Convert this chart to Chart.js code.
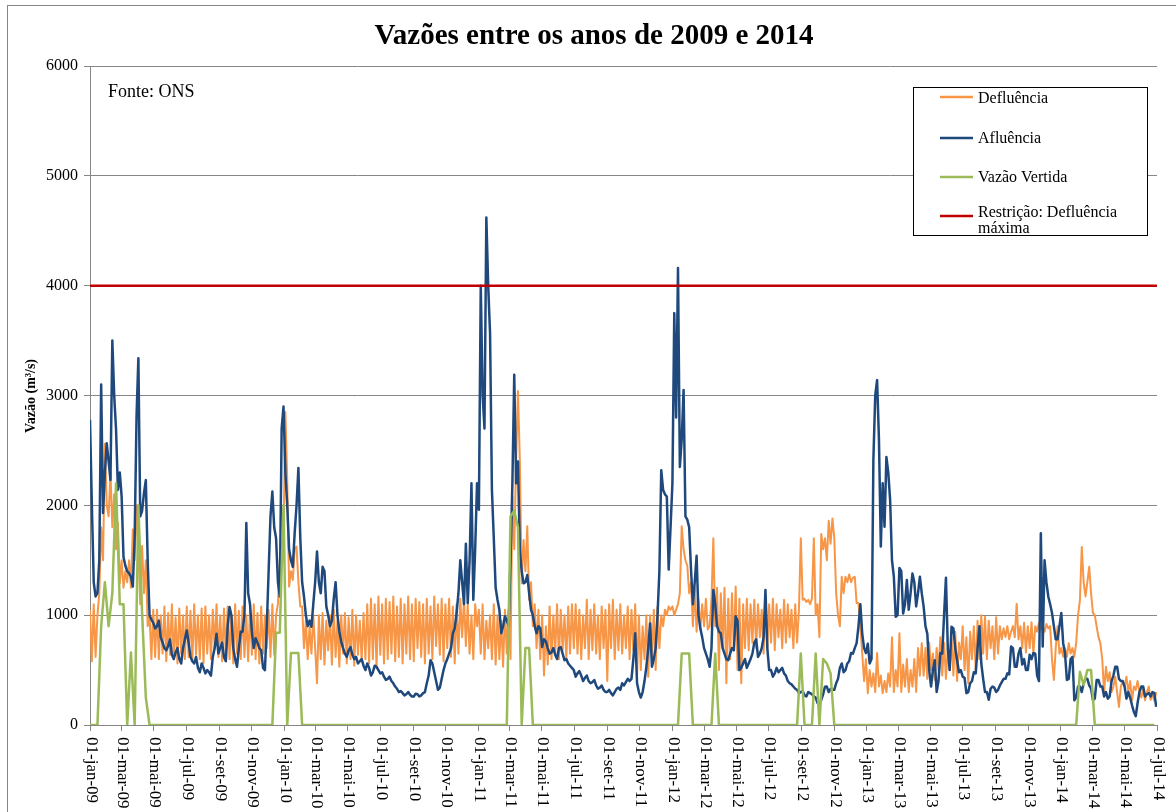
<!DOCTYPE html>
<html>
<head>
<meta charset="utf-8">
<script src="https://cdn.jsdelivr.net/npm/chart.js@4/dist/chart.umd.min.js"></script>
<style>
  html, body { margin: 0; padding: 0; background: #fff; }
  #wrap { width: 1176px; height: 812px; }
</style>
</head>
<body>
<div id="wrap"><canvas id="chart" width="1176" height="812"></canvas></div>
<script>
// Vazões (m³/s) lidas do gráfico a partir de 01-jan-2009
// defluência e afluência amostradas a cada 3,5 dias, vazão vertida a cada 7 dias
const FLOW_STEP_DAYS = 3.5;
const SPILL_STEP_DAYS = 7;

const defluencia = [
  1050, 580, 1100, 620, 1000, 1200, 1800, 1500, 2560, 2000,
  1900, 2300, 1800, 2100, 1600, 1840, 1290, 1500, 1250, 1400,
  1300, 1500, 1250, 1780, 1500, 2000, 1600, 1100, 1630, 1200,
  1500, 900, 1000, 600, 1050,
  620, 1050, 600, 1000, 650, 1080, 580, 1020, 640, 1100,
  600, 980, 560, 1060, 650, 1000, 600, 1080, 620, 1040,
  580, 1100, 640, 1000, 600, 1060, 560, 1080, 650, 1000,
  600, 1050, 700, 1100, 620, 1000, 580, 1060, 640, 1080,
  600, 1000, 560, 1100, 650, 1040, 600, 1080, 620, 1000,
  580, 1050, 640, 1100, 600, 1020, 560, 1080, 650, 1000,
  700, 1050, 620, 1100, 640, 1000, 1100, 1500, 1680,
  1700, 2850, 2230, 1260, 1400, 1320, 1600, 1625, 1300, 1080,
  1080, 700, 950, 600, 900, 650, 1000, 700, 380, 1000,
  600, 1020, 550, 950, 680, 1000, 550, 1050, 620, 950,
  530, 1000, 650, 1020, 560, 980, 600, 1050, 540, 1000,
  640, 950, 580, 1020, 600,
  1100, 560, 1150, 600, 1100, 520, 1170, 640, 1100, 560,
  1150, 600, 1120, 650, 1170, 580, 1080, 620, 1150, 560,
  1100, 650, 1170, 600, 1100, 580, 1150, 700, 1120, 620,
  1100, 560, 1150, 650, 1080, 600, 1170, 720, 1100, 640,
  1150, 580, 1100, 700, 1150, 620, 1080, 560, 1100, 650,
  1150,
  800, 1150, 720, 1100, 650, 1000, 600, 1100, 900, 1050,
  650, 1100, 600, 950, 700, 1000, 600, 1100, 550, 1000,
  600, 950, 530, 1050, 650,
  1050, 600, 2080, 1600, 2400, 3040, 2410, 1290, 1685, 1400,
  1810, 1140, 1300, 900, 1100,
  700, 1050, 600, 1000, 450, 900, 550, 1080, 600, 1000,
  650, 1100, 600, 1050, 680, 1000, 600, 1080, 650, 1100,
  700, 1100, 650, 1050, 600, 1000, 700, 1140, 600, 1050,
  680, 1100, 650, 1000, 600, 1080, 700, 1050, 400, 1100,
  700, 1140, 600, 1050, 680, 1100, 650, 1000, 700, 1080,
  600, 1050, 680, 1100, 450, 1000, 500, 900, 600, 1000,
  440, 1000, 600, 1050, 500, 1080, 700, 1000, 900, 1050,
  1000, 1080, 1050, 1080, 1000, 1050, 1100, 1200, 1810, 1600,
  1500, 1450, 1200, 1300, 900, 1250, 850, 1150, 870, 1100,
  900, 1150, 870, 900, 1150, 1700, 900,
  1250, 500, 1200, 700, 1250, 380, 1150, 600, 1200, 700,
  1260, 500, 1150, 380, 1100, 700, 1150, 680, 1100, 750,
  1140, 700, 1100, 800, 1050, 650, 1140, 700, 1100, 750,
  1150, 680, 1100, 800, 1050, 700, 1140, 750, 1100, 800,
  1050, 700, 1100, 750, 1050,
  1700, 1140, 1150, 1120, 1140, 1100, 1150, 1700, 1000, 1100,
  800, 1740, 1600, 1700, 1500, 1860, 1650, 1880, 1700, 1200,
  1000, 900, 1350, 1200, 1350, 1300, 1370, 1300, 1340, 1350,
  1110, 1110, 900, 655,
  400, 600, 290, 500, 350, 470, 300, 655, 350, 450,
  290, 400, 300, 470, 350, 800, 300, 500, 350, 835,
  300, 550, 350, 600, 300, 500, 350, 600, 300, 700,
  450,
  745, 450, 700, 420, 750, 500, 650, 410, 700, 500,
  800, 450, 750, 420, 700,
  500, 800, 450, 850, 400, 750, 600, 900, 500, 800,
  380, 850, 600, 900, 500, 950, 600,
  1000, 650, 985, 600, 950, 700, 900, 600, 980, 650,
  900, 780, 880, 800, 900, 780, 850, 900, 800, 1105,
  780, 900, 700,
  930, 660, 900, 700, 935, 650, 900, 850, 930, 870,
  900, 850, 920, 880, 900, 600, 410, 700, 900, 650,
  700, 620,
  700, 620, 745, 650, 700, 620, 750, 1000,
  1135, 1620, 1300, 1170, 1300, 1440, 1200, 1020, 1000, 895,
  800, 745, 600, 290,
  530, 400, 480, 300, 350, 440, 300, 165, 350, 400,
  350, 440, 300, 400, 225, 350, 320, 400, 300, 250,
  330, 225, 300, 350, 230, 280, 220, 300
];

const afluencia = [
  2780, 2000, 1300, 1170, 1200, 1500, 3100, 1930, 2300, 2565, 2400, 2230, 3500,
  3000, 2690, 2140, 2300, 2080, 1530, 1450, 1400, 1380, 1350, 1260, 1700, 2800,
  3340, 1900, 1950, 2110, 2230, 1500, 1000, 960, 930, 880, 900, 950, 800,
  750, 700, 680, 720, 780, 640, 600, 660, 700, 600, 560, 700, 780,
  860, 750, 620, 580, 560, 620, 520, 480, 560, 520, 470, 500, 480,
  450, 620, 700, 830, 650, 700, 750, 620, 580, 900, 1075, 1000, 700,
  600, 530, 700, 850, 850, 1000, 1840, 1200, 1100, 850, 700, 790, 750,
  700, 680, 520, 500, 900, 1400, 1900, 2125, 1800, 1700, 1300, 1170, 2700,
  2900, 2300, 2000, 1600, 1500, 1440, 1750, 2000, 2340, 1710, 1300, 1170, 1000,
  900, 950, 895, 1100, 1300, 1580, 1300, 1200, 1440, 1400, 1080, 1000, 900,
  950, 1150, 1300, 1000, 850, 760, 700, 650, 620, 680, 710, 640, 600,
  620, 560, 580, 600, 540, 500, 560, 520, 450, 480, 540, 530, 500,
  470, 480, 440, 410, 420, 440, 400, 380, 350, 330, 300, 310, 290,
  270, 280, 300, 275, 260, 260, 285, 280, 260, 270, 290, 300, 380,
  450, 590, 560, 480, 400, 320, 340, 420, 500, 560, 600, 650, 700,
  835, 880, 1017, 1200, 1500, 1300, 1100, 1650, 1110, 1500, 2200, 1140, 1600,
  2200, 1960, 4000, 3000, 2700, 4620, 4000, 3565, 2140, 1700, 1250, 1140, 1050,
  835, 900, 990, 950, 900, 1500, 2200, 3190, 2200, 2400, 1595, 1400, 1290,
  1300, 1365, 1200, 1050, 1000, 900, 835, 900, 880, 710, 780, 760, 700,
  650, 660, 700, 640, 600, 700, 710, 650, 590, 600, 560, 540, 520,
  500, 440, 470, 490, 450, 400, 430, 450, 400, 380, 390, 410, 360,
  330, 340, 360, 320, 300, 300, 320, 290, 270, 300, 330, 340, 320,
  380, 360, 390, 420, 400, 420, 600, 835, 380, 300, 250, 300, 400,
  530, 700, 925, 530, 600, 700, 1000, 1400, 2320, 2140, 2100, 2080, 1415,
  1800, 2200, 3750, 2800, 4160, 2350, 2600, 3050, 1900, 1870, 1800, 1415, 1100,
  1300, 1540, 1000, 880, 800, 700, 650, 600, 530, 700, 1230, 1100, 900,
  850, 835, 700, 650, 600, 590, 650, 700, 680, 990, 950, 500, 520,
  560, 600, 520, 560, 600, 650, 750, 780, 620, 650, 700, 800, 1230,
  700, 500, 500, 440, 470, 520, 480, 500, 520, 470, 450, 400, 380,
  370, 350, 330, 320, 290, 300, 310, 270, 260, 300, 290, 280, 260,
  250, 200, 180, 230, 280, 349, 350, 300, 330, 320, 320, 380, 420,
  520, 560, 480, 500, 560, 580, 655, 650, 700, 745, 900, 1100, 835,
  700, 655, 740, 560, 600, 2410, 3000, 3140, 2600, 1625, 2200, 1805, 2440,
  2300, 2050, 1500, 1350, 985, 1000, 1430, 1400, 1015, 1100, 1320, 1050, 1200,
  1380, 1300, 1080, 1200, 1350, 1200, 1080, 900, 830, 500, 350, 500, 590,
  300, 400, 655, 650, 1000, 1340, 700, 500, 895, 880, 700, 590, 480,
  500, 440, 430, 290, 300, 380, 400, 480, 470, 700, 900, 560, 420,
  300, 300, 230, 330, 350, 340, 300, 320, 360, 390, 420, 420, 470,
  460, 715, 700, 530, 530, 650, 700, 550, 600, 500, 500, 640, 600,
  655, 650, 450, 400, 1745, 715, 1500, 1300, 1170, 1100, 1020, 900, 780,
  780, 900, 1020, 745, 650, 410, 420, 600, 620, 225, 250, 350, 350,
  300, 380, 420, 420, 360, 330, 225, 240, 410, 410, 350, 350, 260,
  300, 240, 260, 400, 450, 530, 530, 420, 400, 400, 350, 240, 300, 250,
  180, 120, 80, 200, 300, 350, 350, 260, 280, 290, 260, 300, 290, 165
];

const vazaoVertida = [
  0, 0, 0, 900, 1300, 900, 1200, 2200, 1100, 1100, 0, 660, 0,
  2000, 1020, 250, 0, 0, 0, 0, 0, 0, 0, 0, 0, 0,
  0, 0, 0, 0, 0, 0, 0, 0, 0, 0, 0, 0, 0,
  0, 0, 0, 0, 0, 0, 0, 0, 0, 0, 0, 840, 840,
  2000, 0, 655, 655, 655, 0, 0, 0, 0, 0, 0, 0, 0,
  0, 0, 0, 0, 0, 0, 0, 0, 0, 0, 0, 0, 0,
  0, 0, 0, 0, 0, 0, 0, 0, 0, 0, 0, 0, 0,
  0, 0, 0, 0, 0, 0, 0, 0, 0, 0, 0, 0, 0,
  0, 0, 0, 0, 0, 0, 0, 0, 0, 1900, 1950, 1800, 0,
  700, 700, 0, 0, 0, 0, 0, 0, 0, 0, 0, 0, 0,
  0, 0, 0, 0, 0, 0, 0, 0, 0, 0, 0, 0, 0,
  0, 0, 0, 0, 0, 0, 0, 0, 0, 0, 0, 0, 0,
  0, 0, 0, 650, 650, 650, 0, 0, 0, 0, 0, 0, 650,
  0, 0, 0, 0, 0, 0, 0, 0, 0, 0, 0, 0, 0,
  0, 0, 0, 0, 0, 0, 0, 0, 0, 650, 0, 0, 0,
  650, 0, 600, 560, 470, 0, 0, 0, 0, 0, 0, 0, 0,
  0, 0, 0, 0, 0, 0, 0, 0, 0, 0, 0, 0, 0,
  0, 0, 0, 0, 0, 0, 0, 0, 0, 0, 0, 0, 0,
  0, 0, 0, 0, 0, 0, 0, 0, 0, 0, 0, 0, 0,
  0, 0, 0, 0, 0, 0, 0, 0, 0, 0, 0, 0, 0,
  0, 0, 0, 0, 0, 0, 485, 365, 500, 500, 0, 0, 0,
  0, 0, 0, 0, 0, 0, 0, 0, 0, 0, 0, 0, 0, 0
];

const restricaoDays = [0, 2007];
const restricaoMax = [4000, 4000];

// eixo x: dias desde 01-jan-09, marcas a cada 2 meses
const tickDays = [
  0, 59, 120, 181, 243, 304,
  365, 424, 485, 546, 608, 669,
  730, 789, 850, 911, 973, 1034,
  1095, 1155, 1216, 1277, 1339, 1400,
  1461, 1520, 1581, 1642, 1704, 1765,
  1826, 1885, 1946, 2007
];
const tickLabels = [
  '01-jan-09', '01-mar-09', '01-mai-09', '01-jul-09', '01-set-09', '01-nov-09',
  '01-jan-10', '01-mar-10', '01-mai-10', '01-jul-10', '01-set-10', '01-nov-10',
  '01-jan-11', '01-mar-11', '01-mai-11', '01-jul-11', '01-set-11', '01-nov-11',
  '01-jan-12', '01-mar-12', '01-mai-12', '01-jul-12', '01-set-12', '01-nov-12',
  '01-jan-13', '01-mar-13', '01-mai-13', '01-jul-13', '01-set-13', '01-nov-13',
  '01-jan-14', '01-mar-14', '01-mai-14', '01-jul-14'
];

const seriesNames = ['Defluência', 'Afluência', 'Vazão Vertida', 'Restrição: Defluência máxima'];
const seriesColors = ['#F79646', '#1F497D', '#9BBB59', '#C00000'];

const SERIF = '"Liberation Serif", "Times New Roman", serif';
const GRID = '#868686';

const toPoints = (values, step) => values.map((v, i) => ({ x: i * step, y: v }));

const decorPlugin = {
  id: 'decor',
  beforeDraw(chart) {
    const ctx = chart.ctx;
    ctx.save();
    ctx.fillStyle = '#fff';
    ctx.fillRect(0, 0, chart.width, chart.height);
    ctx.restore();
  },
  afterDraw(chart) {
    const ctx = chart.ctx;
    const area = chart.chartArea;
    const xs = chart.scales.x;
    ctx.save();

    // moldura externa
    ctx.strokeStyle = GRID;
    ctx.lineWidth = 1;
    ctx.strokeRect(7.5, 5.5, 1180, 820);

    // título
    ctx.fillStyle = '#000';
    ctx.font = 'bold 29px ' + SERIF;
    ctx.textAlign = 'center';
    ctx.textBaseline = 'alphabetic';
    ctx.fillText('Vazões entre os anos de 2009 e 2014', 594, 44);

    // título do eixo y
    ctx.save();
    ctx.translate(31, 396);
    ctx.rotate(-Math.PI / 2);
    ctx.font = 'bold 14px ' + SERIF;
    ctx.textBaseline = 'middle';
    ctx.fillText('Vazão (m³/s)', 0, 0);
    ctx.restore();

    // fonte
    ctx.font = '18px ' + SERIF;
    ctx.textAlign = 'left';
    ctx.fillText('Fonte: ONS', 108, 97);

    // rótulos do eixo x, girados
    ctx.font = '17px ' + SERIF;
    ctx.textBaseline = 'middle';
    tickDays.forEach((d, i) => {
      const x = xs.getPixelForValue(d);
      ctx.save();
      ctx.translate(x + 1, area.bottom + 12);
      ctx.rotate(Math.PI / 2);
      ctx.textAlign = 'left';
      ctx.fillText(tickLabels[i], 0, 0);
      ctx.restore();
    });

    // legenda
    ctx.fillStyle = '#fff';
    ctx.fillRect(913, 87, 234, 148);
    ctx.strokeStyle = '#000';
    ctx.lineWidth = 1;
    ctx.strokeRect(913.5, 87.5, 234, 148);
    const lineY = [97, 138, 177, 216];
    const textY = [103, 143, 182, 217];
    ctx.font = '16px ' + SERIF;
    ctx.textBaseline = 'alphabetic';
    ctx.textAlign = 'left';
    seriesNames.forEach((name, i) => {
      ctx.strokeStyle = seriesColors[i];
      ctx.lineWidth = 2.5;
      ctx.beginPath();
      ctx.moveTo(940, lineY[i]);
      ctx.lineTo(973, lineY[i]);
      ctx.stroke();
      ctx.fillStyle = '#000';
      if (i === 3) {
        ctx.fillText('Restrição: Defluência', 978, textY[i]);
        ctx.fillText('máxima', 978, textY[i] + 16);
      } else {
        ctx.fillText(name, 978, textY[i]);
      }
    });

    ctx.restore();
  }
};

new Chart(document.getElementById('chart').getContext('2d'), {
  type: 'line',
  data: {
    datasets: [
      {
        label: seriesNames[0],
        data: toPoints(defluencia, FLOW_STEP_DAYS),
        borderColor: seriesColors[0],
        borderWidth: 2,
        order: 4
      },
      {
        label: seriesNames[1],
        data: toPoints(afluencia, FLOW_STEP_DAYS),
        borderColor: seriesColors[1],
        borderWidth: 2.5,
        order: 3
      },
      {
        label: seriesNames[2],
        data: toPoints(vazaoVertida, SPILL_STEP_DAYS),
        borderColor: seriesColors[2],
        borderWidth: 2.5,
        order: 2
      },
      {
        label: seriesNames[3],
        data: restricaoDays.map((d, i) => ({ x: d, y: restricaoMax[i] })),
        borderColor: seriesColors[3],
        borderWidth: 2.5,
        order: 1
      }
    ]
  },
  options: {
    responsive: false,
    animation: false,
    events: [],
    elements: {
      point: { radius: 0 },
      line: { tension: 0, fill: false, borderJoinStyle: 'round' }
    },
    layout: { padding: { top: 66, right: 19, bottom: 81, left: 0 } },
    plugins: {
      legend: { display: false },
      title: { display: false },
      tooltip: { enabled: false }
    },
    scales: {
      x: {
        type: 'linear',
        min: 0,
        max: 2007,
        afterBuildTicks: (scale) => {
          scale.ticks = tickDays.map((d) => ({ value: d }));
        },
        ticks: { display: false },
        grid: { drawOnChartArea: false, color: GRID, tickLength: 6 },
        border: { color: GRID }
      },
      y: {
        min: 0,
        max: 6000,
        afterFit: (scale) => { scale.width = 90; },
        ticks: {
          stepSize: 1000,
          color: '#000',
          padding: 6,
          font: { family: SERIF, size: 16 },
          callback: (v) => String(v)
        },
        grid: { color: GRID, tickLength: 6 },
        border: { color: GRID }
      }
    }
  },
  plugins: [decorPlugin]
});
</script>
</body>
</html>
